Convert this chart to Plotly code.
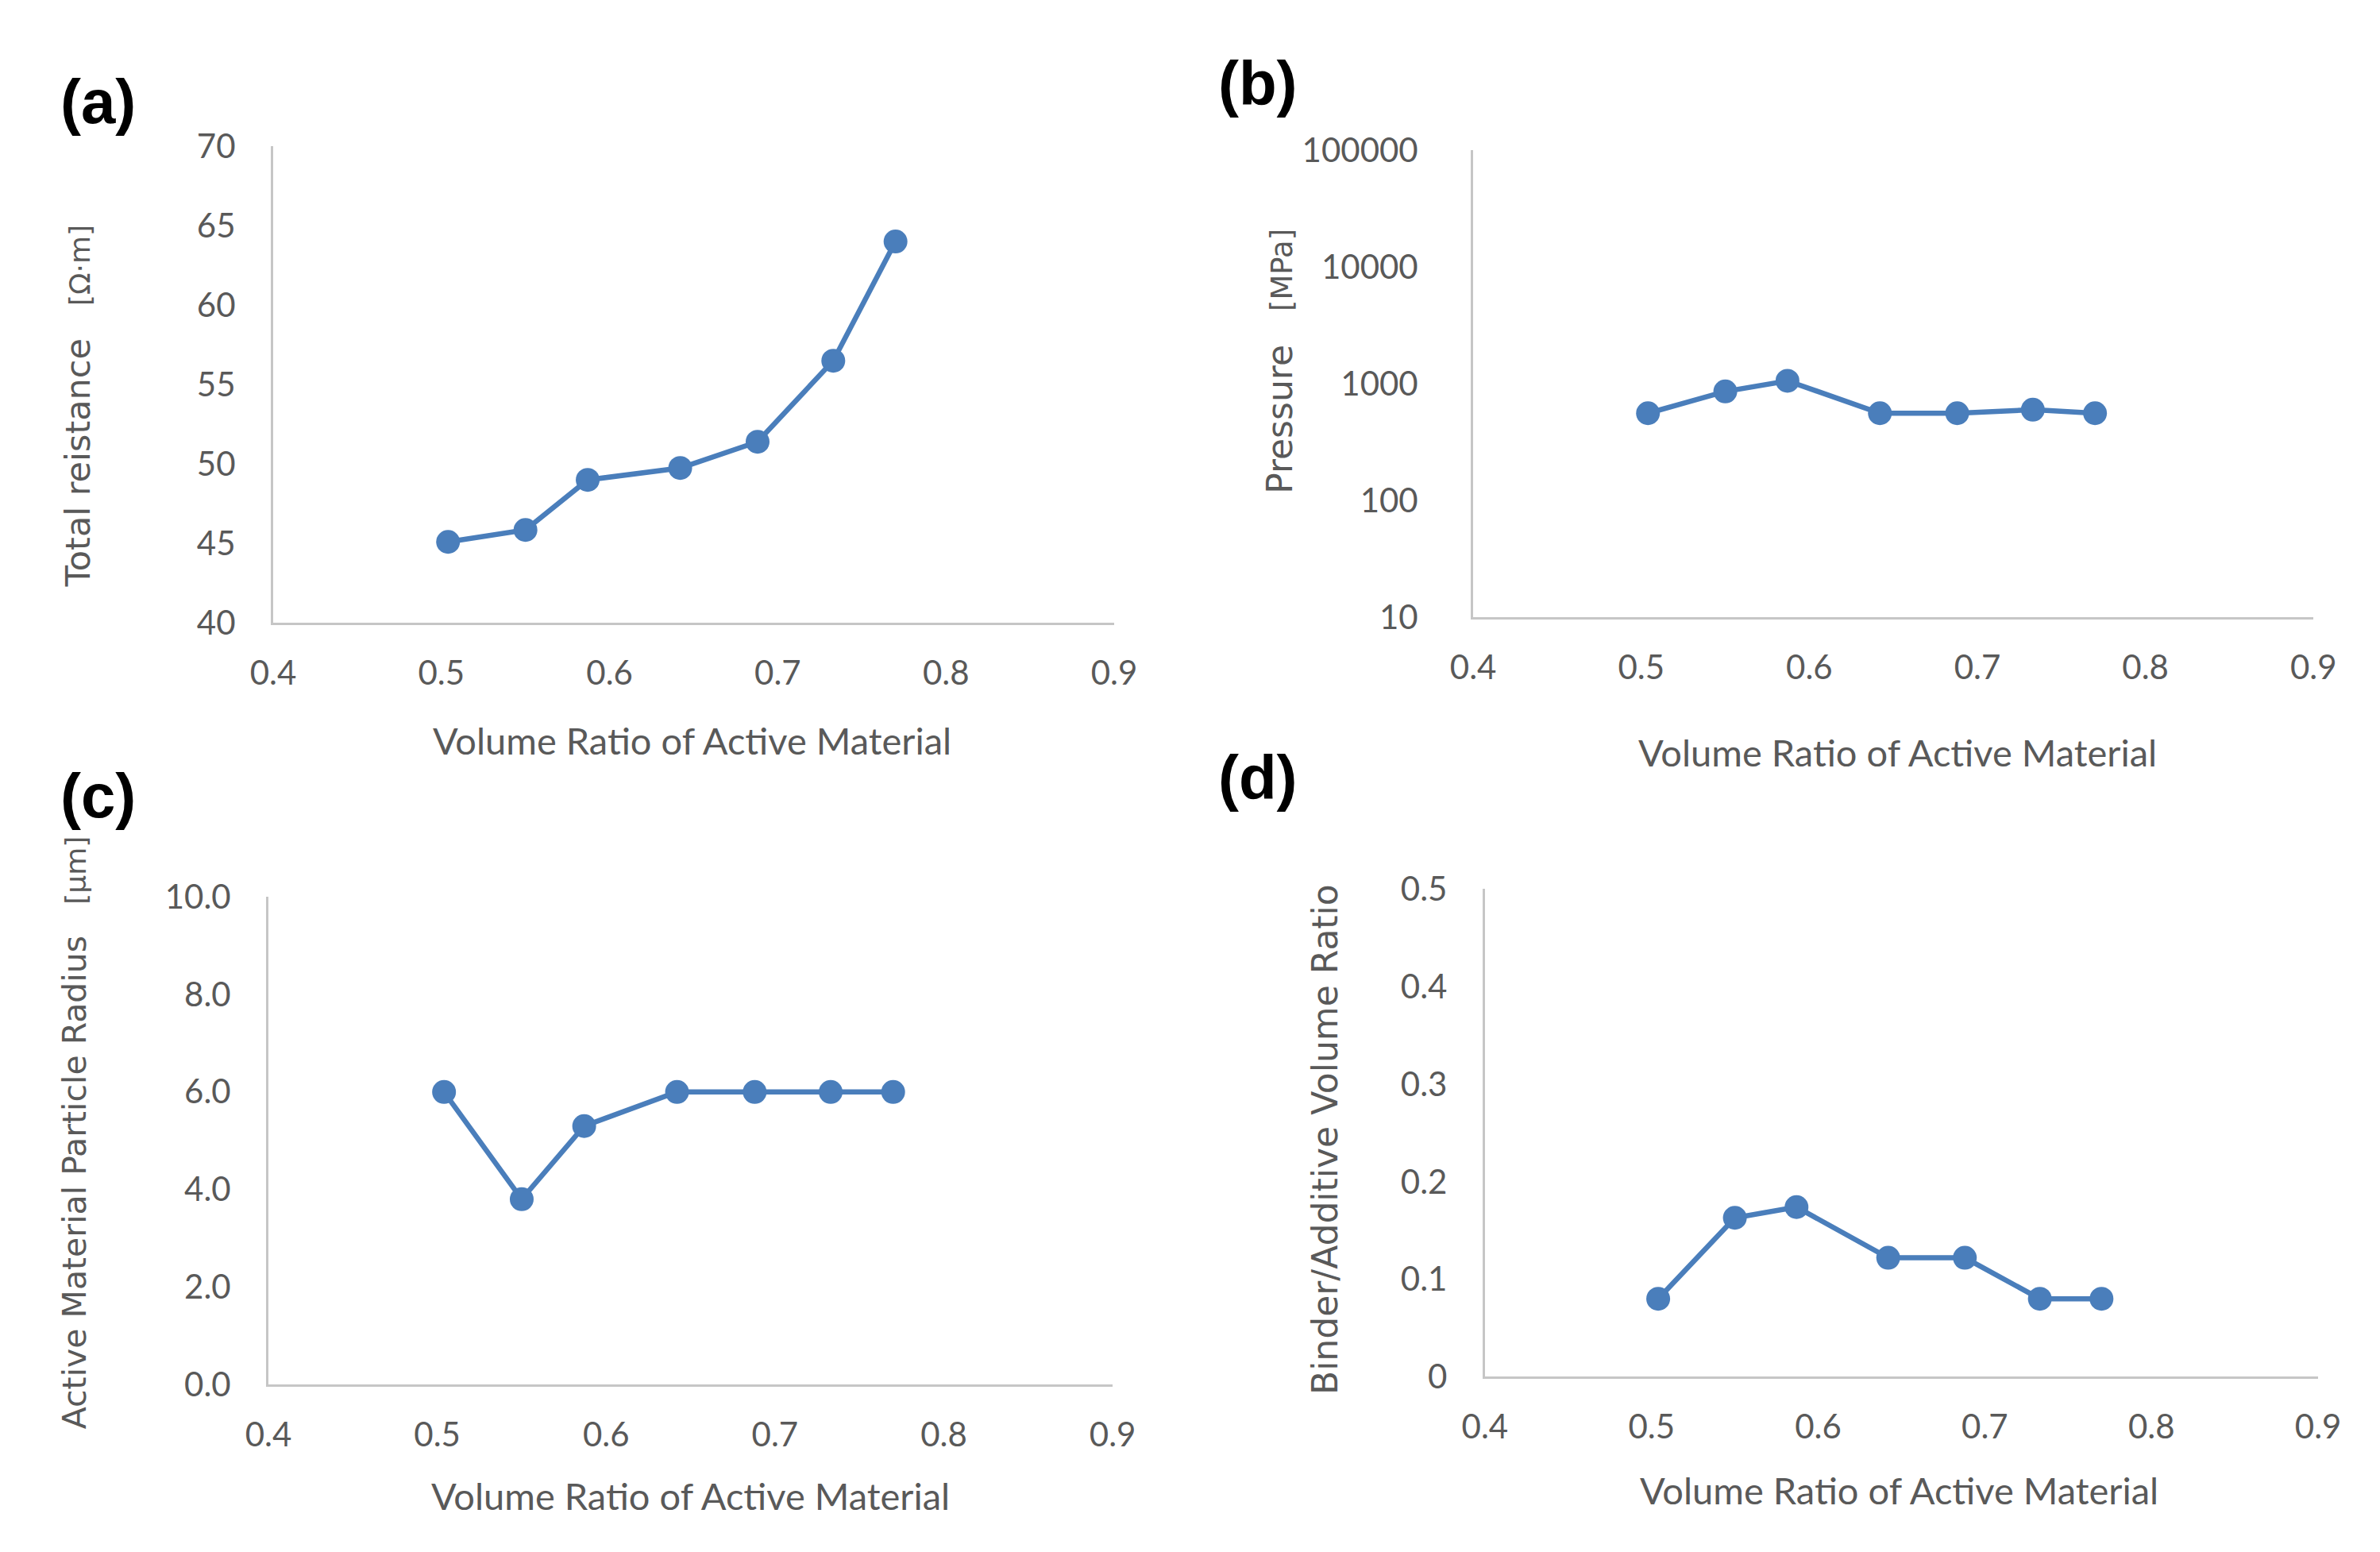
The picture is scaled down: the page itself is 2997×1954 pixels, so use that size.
import plotly.graph_objects as go

# ---- data ----
vol_ratio = [0.504, 0.550, 0.587, 0.642, 0.688, 0.733, 0.770]
total_resistance = [45.1, 45.85, 49.0, 49.75, 51.4, 56.5, 64.0]
pressure = [560, 860, 1060, 560, 560, 600, 560]
particle_radius = [6.0, 3.8, 5.3, 6.0, 6.0, 6.0, 6.0]
binder_ratio = [0.08, 0.163, 0.174, 0.122, 0.122, 0.08, 0.08]

x_ticks = [0.4, 0.5, 0.6, 0.7, 0.8, 0.9]
x_ticktext = ["0.4", "0.5", "0.6", "0.7", "0.8", "0.9"]
a_ticks = [40, 45, 50, 55, 60, 65, 70]
b_ticks = [10, 100, 1000, 10000, 100000]
c_ticks = [0, 2, 4, 6, 8, 10]
c_ticktext = ["0.0", "2.0", "4.0", "6.0", "8.0", "10.0"]
d_ticks = [0, 0.1, 0.2, 0.3, 0.4, 0.5]
d_ticktext = ["0", "0.1", "0.2", "0.3", "0.4", "0.5"]

W, H = 2997, 1954
BLUE = "#4A7EBB"
GRAY = "#595959"
AXIS = "#c6c6c6"
TICKFONT = dict(family="Lato, Liberation Sans, sans-serif", size=42, color=GRAY)
TITLEFONT = dict(family="Lato, Liberation Sans, sans-serif", size=47, color=GRAY)
YTFONT = "DejaVu Sans, Verdana, sans-serif"

def px_x(p):
    return p / W

def px_y(p):
    return 1 - p / H

fig = go.Figure()

series = [
    (total_resistance, "x", "y"),
    (pressure, "x2", "y2"),
    (particle_radius, "x3", "y3"),
    (binder_ratio, "x4", "y4"),
]
for vals, xa, ya in series:
    fig.add_trace(go.Scatter(
        x=vol_ratio, y=vals, xaxis=xa, yaxis=ya, mode="lines+markers",
        line=dict(color=BLUE, width=6.5),
        marker=dict(color=BLUE, size=30),
        showlegend=False, hoverinfo="skip",
    ))

# panel boxes in pixel coords: (left, right, top, bottom)
boxes = {
    "a": (313, 1393, 154, 770),
    "b": (1854, 2933, 159, 763),
    "c": (307, 1391, 1124, 1754),
    "d": (1869, 2939, 1114, 1744),
}

def xaxis_cfg(box, anchor):
    l, r, t, b = box
    return dict(
        domain=[px_x(l), px_x(r)], anchor=anchor, range=[0.4, 0.9],
        tickvals=x_ticks, ticktext=x_ticktext, showgrid=False, zeroline=False,
        showline=True, linecolor=AXIS, linewidth=3, ticks="",
        tickfont=TICKFONT, ticklabelstandoff=24,
    )

def yaxis_cfg(box, anchor, standoff=36, **kw):
    l, r, t, b = box
    d = dict(
        domain=[px_y(b), px_y(t)], anchor=anchor, showgrid=False, zeroline=False,
        showline=True, linecolor=AXIS, linewidth=3, ticks="",
        tickfont=TICKFONT, ticklabelstandoff=standoff,
    )
    d.update(kw)
    return d

fig.update_layout(
    width=W, height=H, margin=dict(l=0, r=0, t=0, b=0),
    paper_bgcolor="white", plot_bgcolor="white",
    xaxis=xaxis_cfg(boxes["a"], "y"),
    yaxis=yaxis_cfg(boxes["a"], "x", range=[40, 70], tickvals=a_ticks),
    xaxis2=xaxis_cfg(boxes["b"], "y2"),
    yaxis2=yaxis_cfg(boxes["b"], "x2", standoff=58, type="log", range=[1, 5],
                     tickvals=b_ticks, ticktext=[str(v) for v in b_ticks]),
    xaxis3=xaxis_cfg(boxes["c"], "y3"),
    yaxis3=yaxis_cfg(boxes["c"], "x3", range=[0, 10], tickvals=c_ticks, ticktext=c_ticktext),
    xaxis4=xaxis_cfg(boxes["d"], "y4"),
    yaxis4=yaxis_cfg(boxes["d"], "x4", range=[0, 0.5], tickvals=d_ticks, ticktext=d_ticktext),
)

ann = []
# panel labels
for lab, (x, y) in {"(a)": (88, 96), "(b)": (1578, 73), "(c)": (88, 993), "(d)": (1578, 970)}.items():
    ann.append(dict(text="<b>" + lab + "</b>", x=px_x(x), y=px_y(y), xref="paper", yref="paper",
                    showarrow=False, xanchor="center", yanchor="middle",
                    font=dict(family="Liberation Sans, Arial, sans-serif", size=78, color="black")))

# x axis titles
for x, y in [(851, 922), (2399, 937), (849, 1898), (2401, 1890)]:
    ann.append(dict(text="Volume Ratio of Active Material", x=px_x(x), y=px_y(y),
                    xref="paper", yref="paper", showarrow=False,
                    xanchor="center", yanchor="middle", font=TITLEFONT))

# y axis titles
sp = "\u00a0\u00a0\u00a0"
ytitles = [
    ("Total reistance" + sp + "<span style='font-size:36px'>[Ω·m]</span>", 63, 490, 43),
    ("Pressure" + sp + "<span style='font-size:37px'>[MPa]</span>", 1606, 432, 44),
    ("Active Material Particle Radius" + sp + "<span style='font-size:36px'>[μm]</span>", 59, 1428, 41),
    ("Binder/Additive Volume Ratio", 1663, 1437, 44),
]
for txt, x, y, s in ytitles:
    ann.append(dict(text=txt, x=px_x(x), y=px_y(y), xref="paper", yref="paper",
                    showarrow=False, textangle=-90, xanchor="center", yanchor="middle",
                    font=dict(family=YTFONT, size=s, color=GRAY)))

fig.update_layout(annotations=ann)
fig.write_html("out.html")
